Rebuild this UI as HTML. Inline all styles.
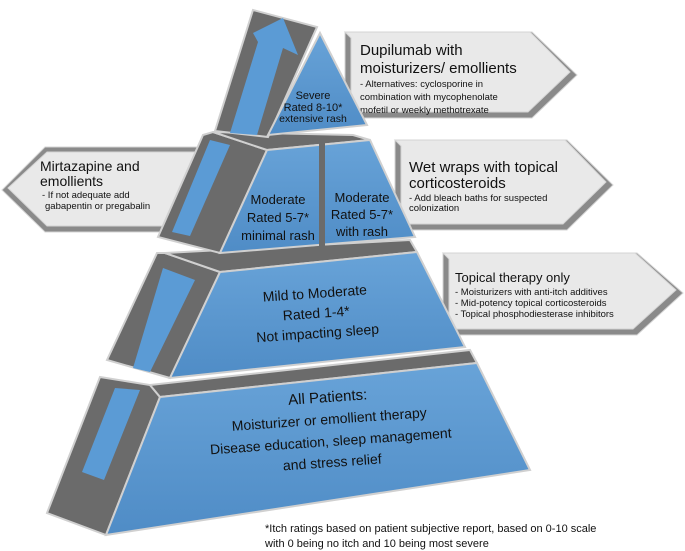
<!DOCTYPE html>
<html><head><meta charset="utf-8"><style>
html,body{margin:0;padding:0;background:#fff;}
svg{display:block;font-family:"Liberation Sans",sans-serif;}
</style></head><body>
<svg width="685" height="551" viewBox="0 0 685 551" xmlns="http://www.w3.org/2000/svg">
<defs>
<linearGradient id="bl" x1="0" y1="0" x2="0" y2="1">
<stop offset="0" stop-color="#68a3d8"/><stop offset="1" stop-color="#4f8cc6"/>
</linearGradient>
</defs>
<!-- callout boxes -->
<g stroke="#d4d4d4" stroke-width="1">
<polygon points="345,32 532,32 577,75 532,118 345,118" fill="#8a8a8a"/>
<polygon points="345,32 530,32 570,72 528,112 351,112 351,38 345,32" fill="#e9e9e9"/>
<polygon points="395,140 567,140 613,185 567,230 395,230" fill="#8a8a8a"/>
<polygon points="395,140 565,140 606,182 563,224 401,224 401,146" fill="#e9e9e9"/>
<polygon points="443,253 637,253 683,293 637,335 443,335" fill="#8a8a8a"/>
<polygon points="443,253 635,253 676,290 633,329 449,329 449,259" fill="#e9e9e9"/>
<polygon points="2,190 45,147 197,147 197,232 45,232" fill="#8a8a8a"/>
<polygon points="8,188 47,152 197,152 197,226 47,226" fill="#e9e9e9"/>
</g>
<g fill="#111">
<text x="360" y="55" font-size="15">Dupilumab with</text>
<text x="360" y="73" font-size="15">moisturizers/ emollients</text>
<text x="360" y="87" font-size="9.5">-  Alternatives: cyclosporine in</text>
<text x="360" y="100" font-size="9.5">combination with mycophenolate</text>
<text x="360" y="113" font-size="9.5">mofetil or weekly methotrexate</text>
<text x="409" y="172" font-size="15">Wet wraps with topical</text>
<text x="409" y="188" font-size="15">corticosteroids</text>
<text x="409" y="201" font-size="9.5">-  Add bleach baths for suspected</text>
<text x="409" y="211" font-size="9.5">colonization</text>
<text x="455" y="282" font-size="13">Topical therapy only</text>
<text x="455" y="295" font-size="9.5">-  Moisturizers with anti-itch additives</text>
<text x="455" y="306" font-size="9.5">-  Mid-potency topical corticosteroids</text>
<text x="455" y="317" font-size="9.5">-  Topical phosphodiesterase inhibitors</text>
<text x="40" y="171" font-size="14">Mirtazapine and</text>
<text x="40" y="186" font-size="14">emollients</text>
<text x="42" y="198" font-size="9.5">-  If not adequate add</text>
<text x="45" y="209" font-size="9.5">gabapentin or pregabalin</text>
</g>
<g stroke="#d0d0d0" stroke-width="2">
<!-- bottom tier -->
<polygon points="100,377 150,385 160,397 106,535 47,513" fill="#6b6b6b"/>
<polygon points="150,385 470,350 477,363 160,397" fill="#6b6b6b"/>
<polygon points="160,397 477,363 530,470 106,535" fill="url(#bl)"/>
<!-- mild tier -->
<polygon points="157,253 165,253 220,272 170,378 107,360" fill="#6b6b6b"/>
<polygon points="165,253 410,240 417,252 220,272" fill="#6b6b6b"/>
<polygon points="220,272 417,252 465,347 170,378" fill="url(#bl)"/>
<!-- second tier -->
<polygon points="203,135 213,132 267,150 220,253 158,237" fill="#6b6b6b"/>
<polygon points="213,132 353,135 370,140 267,150" fill="#6b6b6b"/>
<polygon points="267,150 370,140 415,237 220,253" fill="url(#bl)"/>
<!-- top tier -->
<polygon points="253,10 317,27 268,137 215,131" fill="#6b6b6b"/>
<polygon points="320,33 367,125 268,135" fill="url(#bl)"/>
</g>
<!-- divider -->
<rect x="319" y="142" width="6" height="104" fill="#6b6b6b"/>
<!-- blue bars/arrow -->
<g fill="#5b9bd5" stroke="none">
<polygon points="115,388 140,390 104,480 82,472"/>
<polygon points="163,268 195,280 150,372 133,368"/>
<polygon points="210,140 230,145 190,236 172,232"/>
<polygon points="258,42 253,33 283,18 298,55 283,48 257,135 230,133"/>
</g>
<g fill="#111" text-anchor="middle">
<text x="313" y="99" font-size="11">Severe</text>
<text x="313" y="111" font-size="11">Rated 8-10*</text>
<text x="313" y="122" font-size="10.5">extensive rash</text>
<text x="278" y="204" font-size="13">Moderate</text>
<text x="278" y="222" font-size="13">Rated 5-7*</text>
<text x="278" y="240" font-size="13">minimal rash</text>
<text x="362" y="202" font-size="13">Moderate</text>
<text x="362" y="219" font-size="13">Rated 5-7*</text>
<text x="362" y="236" font-size="13">with rash</text>
<g transform="rotate(-4 316 310)">
<text x="316" y="298" font-size="14">Mild to Moderate</text>
<text x="316" y="318" font-size="14">Rated 1-4*</text>
<text x="316" y="338" font-size="14">Not impacting sleep</text>
</g>
<g transform="rotate(-4 330 430)">
<text x="330" y="402" font-size="15">All Patients:</text>
<text x="330" y="424" font-size="14">Moisturizer or emollient therapy</text>
<text x="330" y="446" font-size="14">Disease education, sleep management</text>
<text x="330" y="467" font-size="14">and stress relief</text>
</g>
</g>
<g fill="#111" font-size="11">
<text x="265" y="532">*Itch ratings based on patient subjective report, based on 0-10 scale</text>
<text x="265" y="547">with 0 being no itch and 10 being most severe</text>
</g>
</svg>
</body></html>
